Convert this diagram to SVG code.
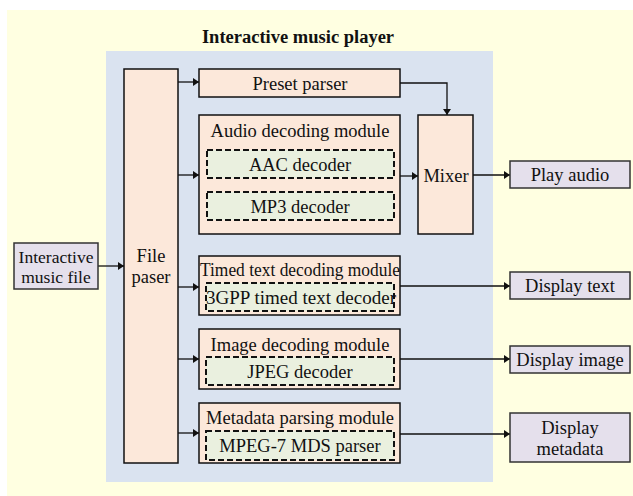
<svg xmlns="http://www.w3.org/2000/svg" width="633" height="496" viewBox="0 0 633 496">
<style>
text{font-family:"Liberation Serif","Times New Roman",serif;font-size:18.5px;fill:#111;text-anchor:middle}
.title{font-weight:bold}
.box{fill:#FCE8DA;stroke:#111;stroke-width:1.5}
.sub{fill:#EAF0DF;stroke:#111;stroke-width:2;stroke-dasharray:6 3}
.out{fill:#E5E0EC;stroke:#333;stroke-width:1.5}
.conn{fill:none;stroke:#111;stroke-width:1.3;marker-end:url(#arr)}
</style>
<defs>
<marker id="arr" markerUnits="userSpaceOnUse" markerWidth="7" markerHeight="8" refX="6" refY="4" orient="auto">
<path d="M0,0 L6,4 L0,8 Z" fill="#111"/>
</marker>
</defs>
<rect x="7" y="10" width="626" height="486" fill="#FFFFE1"/>
<rect x="106" y="51" width="387" height="431" fill="#DAE3F0"/>
<text class="title" x="298" y="43">Interactive music player</text>

<g id="connectors">
<line class="conn" x1="98" y1="266" x2="124" y2="266"/>
<line class="conn" x1="178" y1="82" x2="199" y2="82"/>
<line class="conn" x1="178" y1="175" x2="199" y2="175"/>
<line class="conn" x1="178" y1="287" x2="199" y2="287"/>
<line class="conn" x1="178" y1="359" x2="199" y2="359"/>
<line class="conn" x1="178" y1="433" x2="199" y2="433"/>
<path class="conn" d="M400,83 H447 V115"/>
<line class="conn" x1="400" y1="176" x2="418" y2="176"/>
<line class="conn" x1="473" y1="175" x2="510" y2="175"/>
<line class="conn" x1="400" y1="286" x2="510" y2="286"/>
<line class="conn" x1="400" y1="359" x2="510" y2="359"/>
<line class="conn" x1="400" y1="434" x2="510" y2="434"/>
</g>

<g id="music-file">
<rect class="out" x="14" y="243" width="84" height="46"/>
<text x="56" y="263" style="font-size:17.5px">Interactive</text>
<text x="56" y="283" style="font-size:17.5px">music file</text>
</g>

<g id="file-paser">
<rect class="box" x="124" y="69" width="54" height="394"/>
<text x="151" y="262">File</text>
<text x="151" y="283">paser</text>
</g>

<g id="preset-parser">
<rect class="box" x="199" y="69" width="201" height="28"/>
<text x="300" y="90">Preset parser</text>
</g>

<g id="audio-module">
<rect class="box" x="199" y="115" width="201" height="119"/>
<text x="300" y="137">Audio decoding module</text>
<g id="aac-decoder">
<rect class="sub" x="207" y="150" width="187" height="28"/>
<text x="300" y="171">AAC decoder</text>
</g>
<g id="mp3-decoder">
<rect class="sub" x="207" y="192" width="187" height="28"/>
<text x="300" y="213">MP3 decoder</text>
</g>
</g>

<g id="mixer">
<rect class="box" x="418" y="115" width="55" height="119"/>
<text x="446" y="182">Mixer</text>
</g>

<g id="play-audio">
<rect class="out" x="510" y="161" width="120" height="27"/>
<text x="570" y="181">Play audio</text>
</g>

<g id="timed-text-module">
<rect class="box" x="199" y="256" width="201" height="59"/>
<text x="300" y="276" textLength="200" lengthAdjust="spacingAndGlyphs">Timed text decoding module</text>
<g id="3gpp-decoder">
<rect class="sub" x="206" y="283" width="188" height="28"/>
<text x="301" y="304" textLength="190" lengthAdjust="spacingAndGlyphs">3GPP timed text decoder</text>
</g>
</g>

<g id="display-text">
<rect class="out" x="510" y="272" width="120" height="27"/>
<text x="570" y="292">Display text</text>
</g>

<g id="image-module">
<rect class="box" x="199" y="329" width="201" height="60"/>
<text x="300" y="351">Image decoding module</text>
<g id="jpeg-decoder">
<rect class="sub" x="206" y="357" width="188" height="28"/>
<text x="300" y="378">JPEG decoder</text>
</g>
</g>

<g id="display-image">
<rect class="out" x="510" y="346" width="120" height="27"/>
<text x="570" y="366">Display image</text>
</g>

<g id="metadata-module">
<rect class="box" x="199" y="403" width="201" height="60"/>
<text x="300" y="424">Metadata parsing module</text>
<g id="mpeg7-parser">
<rect class="sub" x="206" y="431" width="188" height="29"/>
<text x="300" y="452">MPEG-7 MDS parser</text>
</g>
</g>

<g id="display-metadata">
<rect class="out" x="510" y="413" width="120" height="49"/>
<text x="570" y="434">Display</text>
<text x="570" y="455">metadata</text>
</g>
</svg>
